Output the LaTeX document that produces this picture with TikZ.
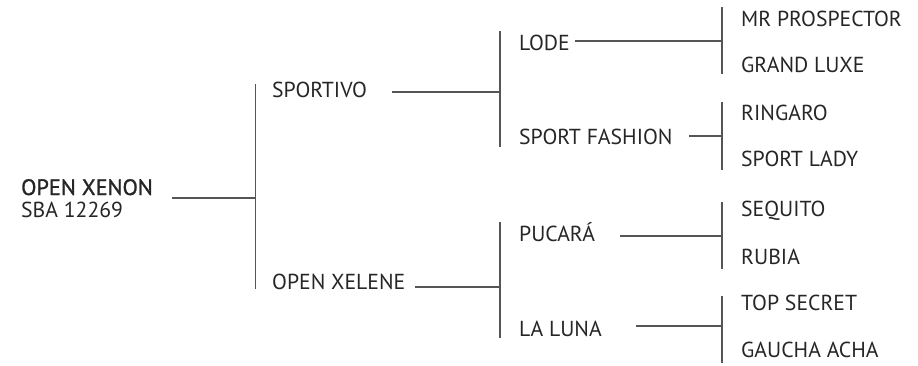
\documentclass[tikz,border=0pt]{standalone}
\usepackage{fontspec}
\setmainfont{PT Sans}
\newfontfamily\medfont[FakeBold=1.2]{PT Sans}
\definecolor{txt}{HTML}{262626}
\definecolor{ln}{HTML}{555555}
\begin{document}
\begin{tikzpicture}[x=1pt,y=-1pt,
  lbl/.style={anchor=base west, inner sep=0pt, font=\fontsize{21.7}{26}\selectfont, text=txt},
  rootlbl/.style={lbl, font=\fontsize{22.3}{26}\selectfont\medfont},
  conn/.style={draw=ln, line width=1.3pt}]
\useasboundingbox (0,0) rectangle (918,365);
% labels
\node[rootlbl] (xenon) at (21,195) {OPEN XENON};
\node[lbl] (sba) at (21,217.5) {SBA 12269};
\node[lbl] (sportivo) at (272,97) {SPORTIVO};
\node[lbl] (xelene) at (272,289) {OPEN XELENE};
\node[lbl] (lode) at (519,50) {LODE};
\node[lbl] (fashion) at (519,144) {SPORT FASHION};
\node[lbl] (pucara) at (519,241) {PUCARÁ};
\node[lbl] (luna) at (519,336) {LA LUNA};
\node[lbl] (mr) at (741,26) {MR PROSPECTOR};
\node[lbl] (grand) at (741,72) {GRAND LUXE};
\node[lbl] (ringaro) at (741,120) {RINGARO};
\node[lbl] (lady) at (741,166) {SPORT LADY};
\node[lbl] (sequito) at (741,216) {SEQUITO};
\node[lbl] (rubia) at (741,264) {RUBIA};
\node[lbl] (topsecret) at (741,310) {TOP SECRET};
\node[lbl] (gaucha) at (741,357) {GAUCHA ACHA};
% bars
\coordinate (b1t) at (255.5,84);  \coordinate (b1b) at (255.5,289);
\coordinate (b2t) at (500,31);    \coordinate (b2b) at (500,147);
\coordinate (b3t) at (500,222);   \coordinate (b3b) at (500,338);
\coordinate (c1t) at (722,7);     \coordinate (c1b) at (722,74);
\coordinate (c2t) at (722,102);   \coordinate (c2b) at (722,170);
\coordinate (c3t) at (722,202);   \coordinate (c3b) at (722,269);
\coordinate (c4t) at (722,296);   \coordinate (c4b) at (722,363);
\foreach \b in {b1,b2,b3,c1,c2,c3,c4} \draw[conn] (\b t) -- (\b b);
% connector starts
\coordinate (xenonR) at (172,198);
\coordinate (sportivoR) at (392,92);
\coordinate (xeleneR) at (415,287);
\coordinate (lodeR) at (575,41);
\coordinate (fashionR) at (689,136);
\coordinate (pucaraR) at (620,236);
\coordinate (lunaR) at (636,326);
\draw[conn] (xenonR) -- (xenonR -| b1t);
\draw[conn] (sportivoR) -- (sportivoR -| b2t);
\draw[conn] (xeleneR) -- (xeleneR -| b3t);
\draw[conn] (lodeR) -- (lodeR -| c1t);
\draw[conn] (fashionR) -- (fashionR -| c2t);
\draw[conn] (pucaraR) -- (pucaraR -| c3t);
\draw[conn] (lunaR) -- (lunaR -| c4t);
\end{tikzpicture}
\end{document}
